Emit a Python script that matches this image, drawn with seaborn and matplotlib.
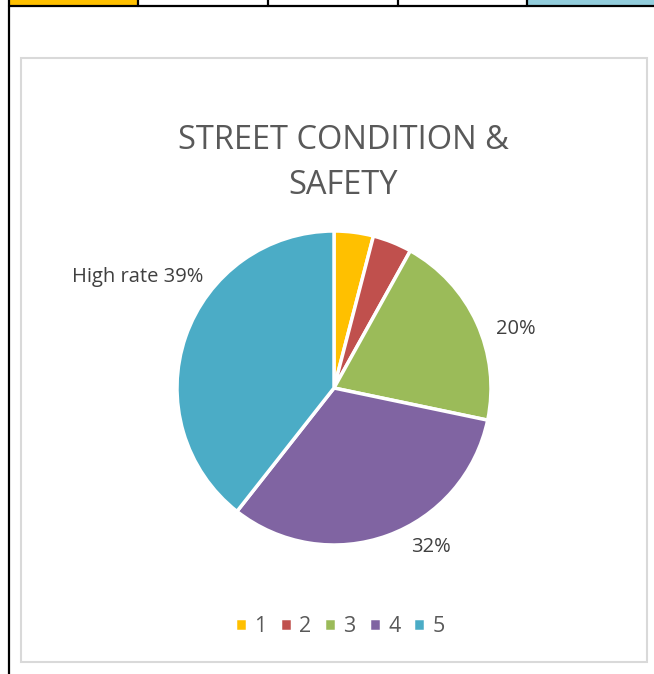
import numpy as np
import matplotlib
matplotlib.use('Agg')
import matplotlib.pyplot as plt
from matplotlib.patches import Rectangle
import seaborn as sns

# data
ratings = ['1', '2', '3', '4', '5']
shares = [4, 4, 20, 32, 39]
colors = ['#FFC000', '#C0504D', '#9BBB59', '#8064A2', '#4BACC6']
label_texts = ['', '', '20%', '32%', 'High rate 39%']

sns.set_theme(style='white')
plt.rcParams['font.family'] = ['Open Sans', 'DejaVu Sans']

W, H = 654, 674
fig = plt.figure(figsize=(W / 100, H / 100), dpi=100)
fig.patch.set_facecolor('white')

def fx(x):
    return x / W

def fy(y):
    return 1 - y / H

# spreadsheet cells peeking in at the top
fig.add_artist(Rectangle((fx(9), fy(5)), fx(138 - 9), 5 / H, transform=fig.transFigure,
                         facecolor='#FFC000', edgecolor='none', zorder=-2))
fig.add_artist(Rectangle((fx(527), fy(5)), fx(W - 527), 5 / H, transform=fig.transFigure,
                         facecolor='#92CDDC', edgecolor='none', zorder=-2))
fig.add_artist(plt.Line2D([fx(9), 1], [fy(5.5), fy(5.5)], transform=fig.transFigure, color='black', lw=1.6))
for xs in [138, 268, 398, 527]:
    fig.add_artist(plt.Line2D([fx(xs), fx(xs)], [fy(0), fy(5.5)], transform=fig.transFigure, color='black', lw=1.6))
fig.add_artist(plt.Line2D([fx(9), fx(9)], [0, 1], transform=fig.transFigure, color='black', lw=1.6))

# chart area frame
fig.add_artist(Rectangle((fx(21), fy(662)), fx(647 - 21), (662 - 58) / H, transform=fig.transFigure,
                         facecolor='white', edgecolor='#D9D9D9', lw=1.5, zorder=-1))

fig.text(fx(343), fy(163), 'STREET CONDITION &\nSAFETY', ha='center', va='center',
         fontsize=23.5, color='#595959', linespacing=1.5)

cx, cy, r = 334, 388, 157
ax = fig.add_axes([fx(cx - r), fy(cy + r), 2 * r / W, 2 * r / H])
wedges, _ = ax.pie(shares, colors=colors, startangle=90, counterclock=False, radius=1,
                   wedgeprops=dict(edgecolor='white', linewidth=2.5))
ax.set_xlim(-1, 1)
ax.set_ylim(-1, 1)
ax.axis('off')

label_pos = {2: (516, 329), 3: (431, 547), 4: (138, 277)}
for i, (xp, yp) in label_pos.items():
    fig.text(fx(xp), fy(yp), label_texts[i], ha='center', va='center', fontsize=14.5, color='#404040')

leg = fig.legend(wedges, ratings, loc='center', bbox_to_anchor=(fx(340), fy(627)), ncol=5,
                 frameon=False, fontsize=15.5, handlelength=0.55, handleheight=0.55,
                 handletextpad=0.35, columnspacing=0.6, labelcolor='#595959')

fig.savefig('out.png', dpi=100, facecolor='white')
